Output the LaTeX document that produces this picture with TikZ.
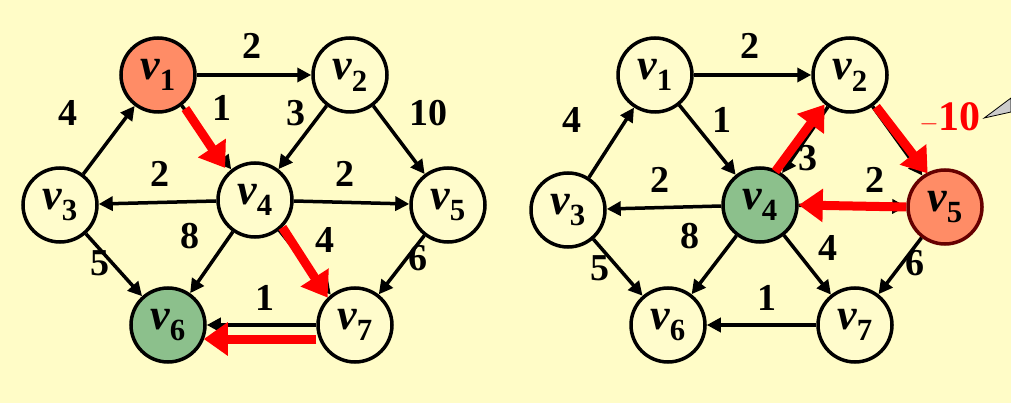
\documentclass[tikz,border=0pt]{standalone}
\usepackage{fontspec}
\setmainfont{Liberation Serif}
\usetikzlibrary{arrows.meta,calc}
\begin{document}
\begin{tikzpicture}[x=1pt,y=-1pt,
 vx/.style={circle,draw=black,line width=3.5pt,minimum size=74pt,inner sep=0pt,font=\fontsize{44}{44}\selectfont\bfseries\itshape},
 ed/.style={line width=3.5pt,-{Triangle[length=14pt,width=14pt]}},
 rd/.style={draw=red,line width=9pt,-{Triangle[length=24pt,width=32pt]}},
 wl/.style={font=\fontsize{38}{38}\selectfont\bfseries}]
\fill[yellow!22!white] (0,0) rectangle (1011,403);
\useasboundingbox (0,0) rectangle (1011,403);
% left graph
\node[vx,fill=red!50!orange!60!white] (a1) at (158,75) {v\textsubscript{\upshape 1}};
\node[vx,fill=white!80!yellow] (a2) at (350,75) {v\textsubscript{\upshape 2}};
\node[vx,fill=white!80!yellow] (a3) at (60,205) {v\textsubscript{\upshape 3}};
\node[vx,fill=white!80!yellow] (a4) at (255,200) {v\textsubscript{\upshape 4}};
\node[vx,fill=white!80!yellow] (a5) at (448,205) {v\textsubscript{\upshape 5}};
\node[vx,fill=green!45!black!45!white] (a6) at (168,325) {v\textsubscript{\upshape 6}};
\node[vx,fill=white!80!yellow] (a7) at (355,325) {v\textsubscript{\upshape 7}};
\draw[ed] (a1) -- (a2); \draw[ed] (a1) -- (a4); \draw[ed] (a2) -- (a4);
\draw[ed] (a2) -- (a5); \draw[ed] (a3) -- (a1); \draw[ed] (a4) -- (a3);
\draw[ed] (a4) -- (a5); \draw[ed] (a3) -- (a6); \draw[ed] (a4) -- (a6);
\draw[ed] (a4) -- (a7); \draw[ed] (a5) -- (a7); \draw[ed] (a7) -- (a6);
\draw[rd,shorten >=-2pt] ([shift={(8,0)}]a1.-60) -- ([shift={(-6,-4)}]a4.130);
\draw[rd] (a4.-45) -- (a7.135);
\draw[rd] ([yshift=-14pt]a7.west) -- ([yshift=-14pt,xshift=-3pt]a6.east);
\node[wl] (l1) at (252,46) {2}; \node[wl] (l2) at (222,108) {1};
\node[wl] (l3) at (296,113) {3}; \node[wl] (l4) at (428,113) {10};
\node[wl] (l5) at (68,113) {4}; \node[wl] (l6) at (160,174) {2};
\node[wl] (l7) at (345,174) {2}; \node[wl] (l8) at (100,263) {5};
\node[wl] (l9) at (190,236) {8}; \node[wl] (l10) at (325,240) {4};
\node[wl] (l11) at (418,258) {6}; \node[wl] (l12) at (265,298) {1};
% right graph
\node[vx,fill=white!80!yellow] (b1) at (655,75) {v\textsubscript{\upshape 1}};
\node[vx,fill=white!80!yellow] (b2) at (850,75) {v\textsubscript{\upshape 2}};
\node[vx,fill=white!80!yellow] (b3) at (568,210) {v\textsubscript{\upshape 3}};
\node[vx,fill=green!45!black!45!white] (b4) at (760,205) {v\textsubscript{\upshape 4}};
\node[vx,fill=red!50!orange!60!white,draw=red!40!black] (b5) at (945,207) {v\textsubscript{\upshape 5}};
\node[vx,fill=white!80!yellow] (b6) at (668,325) {v\textsubscript{\upshape 6}};
\node[vx,fill=white!80!yellow] (b7) at (855,325) {v\textsubscript{\upshape 7}};
\draw[ed] (b1) -- (b2); \draw[ed] (b1) -- (b4); \draw[ed] (b2) -- (b4);
\draw[ed] (b2) -- (b5); \draw[ed] (b3) -- (b1); \draw[ed] (b4) -- (b3);
\draw[ed] (b4) -- (b5); \draw[ed] (b3) -- (b6); \draw[ed] (b4) -- (b6);
\draw[ed] (b4) -- (b7); \draw[ed] (b5) -- (b7); \draw[ed] (b7) -- (b6);
\draw[rd] ([xshift=-4pt]b4.60) -- ([xshift=-6pt,yshift=4pt]b2.-120);
\draw[rd] ([xshift=4pt]b2.-55) -- ([xshift=2pt]b5.120);
\draw[rd] (b5.west) -- (b4.east);
\node[wl] (m1) at (750,46) {2}; \node[wl] (m2) at (722,120) {1};
\node[wl] (m3) at (808,158) {3}; \node[wl,text=red,font=\fontsize{42}{42}\selectfont\bfseries] (m4) at (950,118) {$-$10};
\node[wl] (m5) at (572,120) {4}; \node[wl] (m6) at (660,180) {2};
\node[wl] (m7) at (875,180) {2}; \node[wl] (m8) at (600,268) {5};
\node[wl] (m9) at (690,236) {8}; \node[wl] (m10) at (828,248) {4};
\node[wl] (m11) at (915,263) {6}; \node[wl] (m12) at (767,298) {1};
\coordinate (t1) at (1011,98); \coordinate (t2) at (1011,112);
\filldraw[fill=gray!40,draw=black,line width=0.8pt] (m4.east) -- (t1) -- (t2) -- cycle;
\end{tikzpicture}
\end{document}
